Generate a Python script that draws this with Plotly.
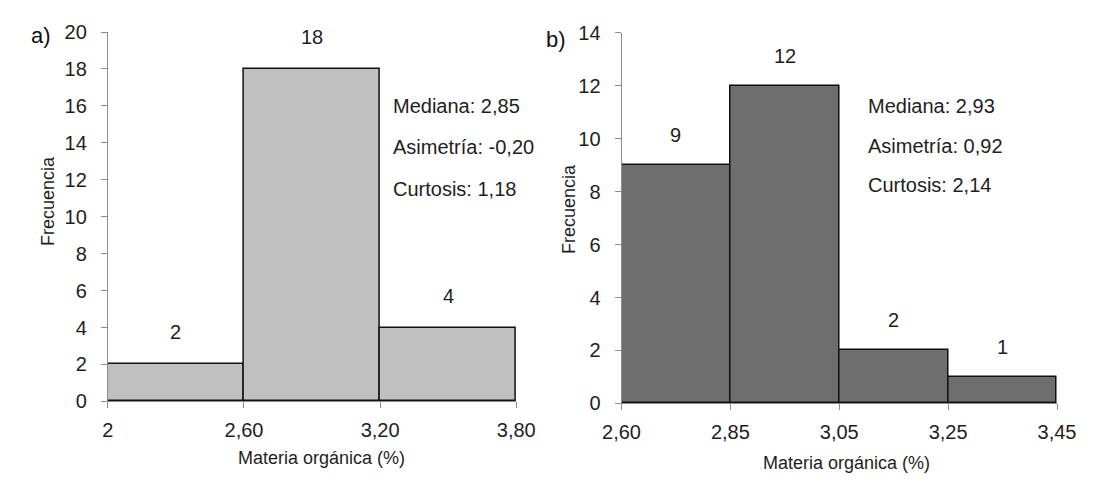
import plotly.graph_objects as go

# ---- data ----
edges_a = ["2", "2,60", "3,20", "3,80"]
counts_a = [2, 18, 4]
stats_a = ["Mediana: 2,85", "Asimetría: -0,20", "Curtosis: 1,18"]

edges_b = ["2,60", "2,85", "3,05", "3,25", "3,45"]
counts_b = [9, 12, 2, 1]
stats_b = ["Mediana: 2,93", "Asimetría: 0,92", "Curtosis: 2,14"]

W, H = 1104, 484
FONT = "Liberation Sans, Arial, sans-serif"
TXT = "#1e1e1e"
AX = "#8c8c8c"

fig = go.Figure()

fig.add_trace(go.Bar(
    x=[i + 0.5 for i in range(len(counts_a))], y=counts_a, width=1,
    marker=dict(color="#c0c0c0", line=dict(color="#111111", width=1.5)),
    xaxis="x", yaxis="y", showlegend=False, hoverinfo="skip"))
fig.add_trace(go.Bar(
    x=[i + 0.5 for i in range(len(counts_b))], y=counts_b, width=1,
    marker=dict(color="#6e6e6e", line=dict(color="#111111", width=1.5)),
    xaxis="x2", yaxis="y2", showlegend=False, hoverinfo="skip"))

def px_x(p):
    return p / W

def px_y(p):
    return 1 - p / H

axis_common = dict(showgrid=False, zeroline=False, showline=True, linecolor=AX,
                   linewidth=1, ticks="outside", ticklen=6, tickcolor=AX,
                   tickfont=dict(family=FONT, size=20, color=TXT))

fig.update_layout(
    width=W, height=H, margin=dict(l=0, r=0, t=0, b=0),
    paper_bgcolor="white", plot_bgcolor="white", bargap=0,
    font=dict(family=FONT, color=TXT),
    xaxis=dict(domain=[px_x(92), px_x(515)], range=[0, len(counts_a)],
               tickvals=list(range(len(edges_a))), ticktext=edges_a,
               ticklabelstandoff=5, anchor="y", **axis_common),
    yaxis=dict(domain=[px_y(409), px_y(22)], range=[0, 20], dtick=2,
               ticklabelstandoff=10, anchor="x", **axis_common),
    xaxis2=dict(domain=[px_x(624), px_x(1075)], range=[0, len(counts_b)],
                tickvals=list(range(len(edges_b))), ticktext=edges_b,
                ticklabelstandoff=5, anchor="y2", **axis_common),
    yaxis2=dict(domain=[px_y(411), px_y(23)], range=[0, 14], dtick=2,
                ticklabelstandoff=10, anchor="x2", **axis_common),
)

ann = []
# bar value labels
for i, c in enumerate(counts_a):
    ann.append(dict(x=i + 0.5, y=c, xref="x", yref="y", text=str(c), showarrow=False,
                    yshift=32, font=dict(size=20, family=FONT, color=TXT)))
for i, c in enumerate(counts_b):
    ann.append(dict(x=i + 0.5, y=c, xref="x2", yref="y2", text=str(c), showarrow=False,
                    yshift=30, font=dict(size=20, family=FONT, color=TXT)))

# statistics
for xs, stats, gap in ((385, stats_a, 43), (877, stats_b, 41)):
    for k, s in enumerate(stats):
        ann.append(dict(x=px_x(xs), y=px_y(100 + gap * k), xref="paper", yref="paper",
                        text=s, showarrow=False, xanchor="left", yanchor="middle",
                        font=dict(size=20, family=FONT, color=TXT)))

# axis titles
for (x, y) in ((30, 199), (569, 207)):
    ann.append(dict(x=px_x(x), y=px_y(y), xref="paper", yref="paper", text="Frecuencia",
                    textangle=-90, showarrow=False, xanchor="center", yanchor="middle",
                    font=dict(size=18, family=FONT, color=TXT)))
for (x, y) in ((313, 468), (857, 474)):
    ann.append(dict(x=px_x(x), y=px_y(y), xref="paper", yref="paper",
                    text="Materia orgánica (%)", showarrow=False,
                    xanchor="center", yanchor="middle",
                    font=dict(size=18, family=FONT, color=TXT)))

# panel labels
for (x, y, t) in ((23, 26, "a)"), (556, 30, "b)")):
    ann.append(dict(x=px_x(x), y=px_y(y), xref="paper", yref="paper", text=t,
                    showarrow=False, xanchor="center", yanchor="middle",
                    font=dict(size=22, family=FONT, color="#111111")))

fig.update_layout(annotations=ann)
fig.write_html("out.html", config={"displayModeBar": False},
               post_script="document.body.style.margin='0';document.body.style.overflow='hidden';")
